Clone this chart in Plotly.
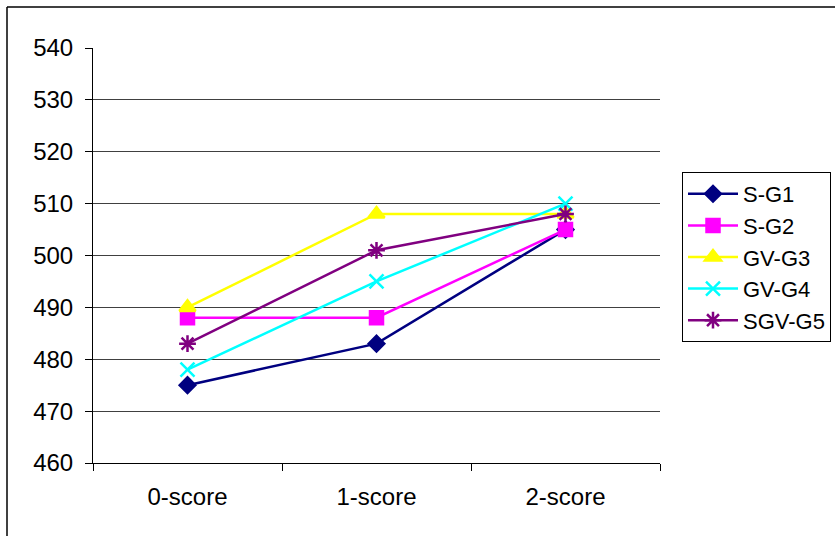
import plotly.graph_objects as go

categories = ["0-score", "1-score", "2-score"]
series_names = ["S-G1", "S-G2", "GV-G3", "GV-G4", "SGV-G5"]
s_g1 = [475, 483, 505]
s_g2 = [488, 488, 505]
gv_g3 = [490, 508, 508]
gv_g4 = [478, 495, 510]
sgv_g5 = [483, 501, 508]
y_ticks = [460, 470, 480, 490, 500, 510, 520, 530, 540]

values = [s_g1, s_g2, gv_g3, gv_g4, sgv_g5]
colors = ["#000080", "#FF00FF", "#FFFF00", "#00FFFF", "#800080"]
symbols = ["diamond", "square", "triangle-up", "x-thin-open", "asterisk-open"]
sizes = [12, 13, 14, 14, 14]

fig = go.Figure()
for i, (name, vals) in enumerate(zip(series_names, values)):
    fig.add_trace(go.Scatter(
        x=categories, y=vals, name=name, mode="lines+markers",
        line=dict(color=colors[i], width=2.5),
        marker=dict(symbol=symbols[i], size=sizes[i], color=colors[i],
                    line=dict(color=colors[i], width=2.5)),
        legendgroup=name,
    ))

L, R, T, B = 93, 175, 48, 73
W, H = 835, 536
pw = W - L - R
ph = H - T - B

def px(x):
    return (x - L) / pw

def py(y):
    return (H - B - y) / ph

fig.update_layout(
    width=W, height=H,
    margin=dict(l=L, r=R, t=T, b=B, autoexpand=False),
    paper_bgcolor="white", plot_bgcolor="white",
    font=dict(family="Liberation Sans, Arial, sans-serif", color="black"),
    showlegend=True,
    legend=dict(
        x=px(682), y=py(172), xanchor="left", yanchor="top",
        bordercolor="black", borderwidth=1, bgcolor="white",
        font=dict(size=22), traceorder="grouped", tracegroupgap=0,
        itemwidth=50,
    ),
    xaxis=dict(
        type="category", range=[-0.5, 2.5], tickson="boundaries",
        ticks="outside", ticklen=7, tickcolor="black",
        showline=True, linecolor="black", linewidth=1,
        showgrid=False, tickfont=dict(size=24), fixedrange=True,
        ticklabelstandoff=12, automargin=False,
    ),
    yaxis=dict(
        range=[460, 540], tickvals=y_ticks, ticks="outside", ticklen=7,
        tickcolor="black", showline=True, linecolor="black", linewidth=1,
        showgrid=True, gridcolor="#404040", gridwidth=1,
        tickfont=dict(size=24), zeroline=False, automargin=False,
        ticklabelstandoff=7,
    ),
    shapes=[
        dict(type="line", xref="paper", yref="paper",
             x0=px(7), x1=px(835), y0=py(7), y1=py(7),
             line=dict(color="black", width=1.5)),
        dict(type="line", xref="paper", yref="paper",
             x0=px(7), x1=px(7), y0=py(7), y1=py(540),
             line=dict(color="black", width=1.5)),
    ],
)

fig.write_html(
    "out.html",
    config={"displayModeBar": False},
    post_script="document.body.style.margin='0';document.body.style.overflow='hidden';",
)
